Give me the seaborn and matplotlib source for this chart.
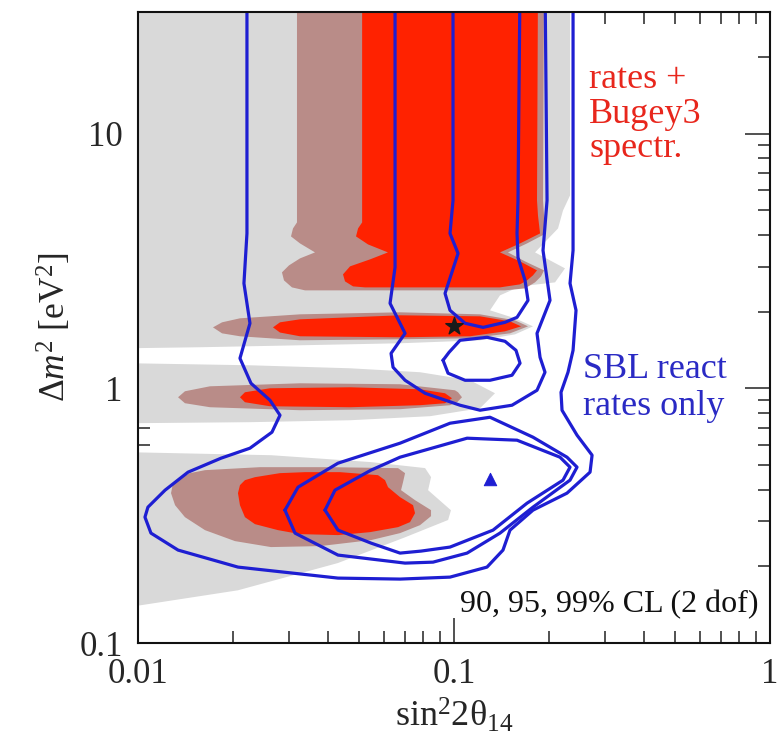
import matplotlib
matplotlib.use("Agg")
import matplotlib.pyplot as plt
import seaborn as sns
from matplotlib.ticker import FixedLocator, NullFormatter, FixedFormatter

# ---------------- data (sin^2 2theta14, Delta m^2 [eV^2]) ----------------
# "rates + Bugey3 spectr." allowed regions: 99% (grey), 95% (brown), 90% (red)
grey99_a_s2t = [0.0094, 0.2329, 0.2329, 0.2213, 0.2134, 0.1805, 0.2245, 0.2088, 0.1618, 0.1398,
                0.1300, 0.1560, 0.1778, 0.1560, 0.1209, 0.0675, 0.0326, 0.0157, 0.0094]
grey99_a_dm2 = [40, 40, 5.713, 4.990, 4.241, 3.415, 2.956, 2.605, 2.512, 2.316,
                2.023, 1.882, 1.750, 1.628, 1.543, 1.502, 1.475, 1.449, 1.436]
grey99_b_s2t = [0.0094, 0.0226, 0.0469, 0.0781, 0.1124, 0.1348, 0.1209, 0.0840, 0.0469, 0.0226, 0.0094]
grey99_b_dm2 = [1.254, 1.231, 1.198, 1.156, 1.075, 0.956, 0.835, 0.777, 0.749, 0.736, 0.729]
grey99_c_s2t = [0.0094, 0.0264, 0.0546, 0.0810, 0.0846, 0.0828, 0.0978, 0.0958, 0.0700, 0.0429, 0.0207, 0.0094]
grey99_c_dm2 = [0.561, 0.546, 0.513, 0.486, 0.448, 0.398, 0.332, 0.304, 0.260, 0.206, 0.161, 0.1385]

brown95_a_s2t = [0.03185, 0.03185, 0.03094, 0.03049, 0.03256, 0.03632, 0.03256, 0.03005, 0.02855,
                 0.02897, 0.03071, 0.03377, 0.1450, 0.1678, 0.1805, 0.1886, 0.1927, 0.1678,
                 0.1482, 0.1703, 0.1956, 0.1927, 0.1913, 0.1927]
brown95_a_dm2 = [40, 4.478, 4.241, 3.946, 3.704, 3.415, 3.235, 3.037, 2.851,
                 2.652, 2.489, 2.423, 2.423, 2.467, 2.605, 2.750, 2.903, 3.148,
                 3.415, 3.704, 4.054, 4.770, 5.461, 40]
brown95_b_s2t = [0.01727, 0.01845, 0.02102, 0.03256, 0.06749, 0.1209, 0.1560, 0.1715, 0.1504, 0.1124,
                 0.06749, 0.03256, 0.02102, 0.01845]
brown95_b_dm2 = [1.734, 1.815, 1.882, 1.951, 1.987, 1.951, 1.848, 1.750, 1.643, 1.571,
                 1.557, 1.543, 1.600, 1.643]
brown95_c_s2t = [0.01339, 0.01408, 0.0169, 0.03256, 0.06749, 0.1007, 0.1030, 0.1060, 0.1023, 0.09713,
                 0.06749, 0.03256, 0.0169, 0.01408]
brown95_c_dm2 = [0.922, 0.9733, 1.018, 1.046, 1.037, 0.982, 0.9645, 0.922, 0.8815, 0.858,
                 0.8275, 0.820, 0.8425, 0.8736]
brown95_d_s2t = [0.01272, 0.01291, 0.01358, 0.01461, 0.01629, 0.02432, 0.04051, 0.06652, 0.0700, 0.06898,
                 0.06798, 0.07528, 0.08459, 0.08459, 0.07808, 0.06749, 0.05463, 0.03767, 0.02635, 0.02027,
                 0.01629, 0.01408, 0.0131]
brown95_d_dm2 = [0.3875, 0.4242, 0.4437, 0.4643, 0.477, 0.4901, 0.4901, 0.4857, 0.4643, 0.428,
                 0.3981, 0.3637, 0.3323, 0.3148, 0.2902, 0.27, 0.2535, 0.2401, 0.2380, 0.2512,
                 0.2774, 0.3119, 0.3476]

red90_a_s2t = [0.0512, 0.0512, 0.0497, 0.04897, 0.05345, 0.0618, 0.05423, 0.04688, 0.04454, 0.0452,
               0.04792, 0.05229, 0.1398, 0.1618, 0.1703, 0.1778, 0.1831, 0.1618, 0.1398, 0.1618,
               0.1872, 0.1844, 0.1831, 0.1844]
red90_a_dm2 = [40, 4.478, 4.241, 3.946, 3.670, 3.415, 3.206, 3.010, 2.800, 2.628,
               2.512, 2.489, 2.489, 2.558, 2.652, 2.775, 2.903, 3.148, 3.415, 3.704,
               4.054, 4.770, 5.461, 40]
red90_b_s2t = [0.02674, 0.02814, 0.03256, 0.06749, 0.1209, 0.1504, 0.1630, 0.1450, 0.1124, 0.06749,
               0.03256, 0.02814]
red90_b_dm2 = [1.734, 1.815, 1.865, 1.934, 1.916, 1.831, 1.750, 1.673, 1.600, 1.585,
               1.600, 1.655]
red90_c_s2t = [0.02102, 0.0218, 0.02616, 0.04688, 0.07808, 0.09368, 0.09856, 0.09368, 0.07808, 0.04688,
               0.02616, 0.0218]
red90_c_dm2 = [0.922, 0.9645, 1.0, 1.009, 0.991, 0.9558, 0.9137, 0.8736, 0.858, 0.8425,
               0.850, 0.8815]
red90_d_s2t = [0.02072, 0.02102, 0.0218, 0.02345, 0.02814, 0.03377, 0.04358, 0.05748, 0.0605, 0.06183,
               0.06749, 0.0742, 0.07528, 0.07259, 0.06652, 0.05423, 0.04294, 0.03256, 0.02773, 0.02345,
               0.0218, 0.02102]
red90_d_dm2 = [0.3875, 0.4165, 0.4358, 0.4477, 0.4643, 0.4685, 0.4685, 0.4559, 0.4358, 0.409,
               0.3737, 0.3476, 0.3234, 0.2982, 0.285, 0.2724, 0.2652, 0.2676, 0.2774, 0.2928,
               0.3119, 0.3476]

# "SBL react rates only" contours (blue lines)
sbl99_s2t = [0.02212, 0.02212, 0.02164, 0.02261, 0.02102, 0.02278, 0.02616, 0.02814, 0.02654, 0.02261,
             0.01831, 0.0144, 0.01218, 0.01075, 0.01052, 0.01099, 0.01339, 0.02072, 0.04294, 0.06749,
             0.09713, 0.1272, 0.1429, 0.1504, 0.1778, 0.2278, 0.2695, 0.2735, 0.2451, 0.2197,
             0.2181, 0.2295, 0.2381, 0.2433, 0.2329, 0.2381, 0.2381]
sbl99_dm2 = [40, 4.054, 2.581, 1.799, 1.311, 1.046, 0.8975, 0.7837, 0.6723, 0.5818,
             0.5315, 0.4685, 0.3981, 0.3414, 0.3119, 0.27, 0.2316, 0.1986, 0.1798, 0.1782,
             0.1814, 0.1986, 0.2316, 0.2774, 0.3323, 0.3875, 0.4685, 0.5462, 0.6543, 0.82,
             0.9645, 1.156, 1.409, 2.023, 2.581, 3.477, 40]
sbl95_a_s2t = [0.06508, 0.06508, 0.06275, 0.0700, 0.06321, 0.06414, 0.0700, 0.08098, 0.1045, 0.1209,
               0.1526, 0.1831, 0.1941, 0.1872, 0.1831, 0.2013, 0.1913, 0.197, 0.1941]
sbl95_a_dm2 = [40, 2.983, 2.155, 1.643, 1.371, 1.209, 1.075, 0.9558, 0.8579, 0.820,
               0.8579, 0.982, 1.156, 1.323, 1.643, 2.214, 3.477, 5.461, 40]
sbl95_b_s2t = [0.02918, 0.03209, 0.04294, 0.06749, 0.09713, 0.1300, 0.1778, 0.2278, 0.2451, 0.2329,
               0.1778, 0.1398, 0.1100, 0.08584, 0.0700, 0.04294, 0.03139, 0.02918]
sbl95_b_dm2 = [0.3323, 0.409, 0.5081, 0.6087, 0.7291, 0.7696, 0.6426, 0.5363, 0.4901, 0.4358,
               0.3414, 0.27, 0.2254, 0.2077, 0.2059, 0.2214, 0.27, 0.3323]
sbl90_a_s2t = [0.09928, 0.09928, 0.09713, 0.1030, 0.09368, 0.09713, 0.1084, 0.1236, 0.1450, 0.1583,
               0.1715, 0.1678, 0.1594, 0.1583, 0.1594, 0.1618]
sbl90_a_dm2 = [40, 5.461, 4.054, 3.384, 2.358, 2.023, 1.799, 1.734, 1.815, 1.899,
               2.214, 2.652, 3.264, 4.054, 5.461, 40]
sbl90_b_s2t = [0.09233, 0.09645, 0.1045, 0.1272, 0.1450, 0.1571, 0.1618, 0.1526, 0.1300, 0.1084, 0.09575, 0.09233]
sbl90_b_dm2 = [1.288, 1.384, 1.543, 1.585, 1.529, 1.409, 1.254, 1.125, 1.075, 1.075, 1.146, 1.288]
sbl90_c_s2t = [0.03907, 0.04201, 0.05463, 0.06749, 0.1100, 0.1583, 0.2165, 0.2329, 0.2213, 0.1703,
               0.1329, 0.09713, 0.07865, 0.06749, 0.05463, 0.04294, 0.03907]
sbl90_c_dm2 = [0.3323, 0.3981, 0.477, 0.5363, 0.6368, 0.6254, 0.5363, 0.4901, 0.4358, 0.354,
               0.2774, 0.238, 0.2295, 0.2254, 0.2467, 0.2774, 0.3323]

bestfit_global = (0.10, 1.75)   # star
bestfit_sbl = (0.13, 0.44)      # triangle

xtick_vals = [0.01, 0.1, 1]
xtick_labels = ["0.01", "0.1", "1"]
ytick_vals = [0.1, 1, 10]
ytick_labels = ["0.1", "1", "10"]
red_text_lines = ["rates +", "Bugey3", "spectr."]
blue_text_lines = ["SBL react", "rates only"]
cl_text = "90, 95, 99% CL (2 dof)"

# ---------------- style ----------------
sns.set_style("ticks")
plt.rcParams['font.family'] = ['Liberation Serif', 'DejaVu Serif']
plt.rcParams['mathtext.fontset'] = 'custom'
plt.rcParams['mathtext.rm'] = 'Liberation Serif'
plt.rcParams['mathtext.it'] = 'Liberation Serif:italic'
plt.rcParams['mathtext.bf'] = 'Liberation Serif:bold'

GREY = '#d9d9d9'
BROWN = '#b98c88'
RED = '#ff2200'
BLUE = '#1e1ed2'
RED_TXT = '#e8261c'
BLUE_TXT = '#2a2ac4'

fig = plt.figure(figsize=(7.8, 7.44), dpi=100)
ax = fig.add_axes([138 / 780, 101 / 744, 632 / 780, 631 / 744])
ax.set_xscale('log')
ax.set_yscale('log')

for xs, ys in [(grey99_a_s2t, grey99_a_dm2), (grey99_b_s2t, grey99_b_dm2), (grey99_c_s2t, grey99_c_dm2)]:
    ax.fill(xs, ys, color=GREY, lw=0, zorder=1)
for xs, ys in [(brown95_a_s2t, brown95_a_dm2), (brown95_b_s2t, brown95_b_dm2),
               (brown95_c_s2t, brown95_c_dm2), (brown95_d_s2t, brown95_d_dm2)]:
    ax.fill(xs, ys, color=BROWN, lw=0, zorder=2)
for xs, ys in [(red90_a_s2t, red90_a_dm2), (red90_b_s2t, red90_b_dm2),
               (red90_c_s2t, red90_c_dm2), (red90_d_s2t, red90_d_dm2)]:
    ax.fill(xs, ys, color=RED, lw=0, zorder=3)

for xs, ys in [(sbl99_s2t, sbl99_dm2), (sbl95_a_s2t, sbl95_a_dm2), (sbl95_b_s2t, sbl95_b_dm2),
               (sbl90_a_s2t, sbl90_a_dm2), (sbl90_b_s2t, sbl90_b_dm2), (sbl90_c_s2t, sbl90_c_dm2)]:
    sns.lineplot(x=xs, y=ys, sort=False, estimator=None, color=BLUE, lw=2.3, ax=ax, zorder=4)

sns.scatterplot(x=[bestfit_global[0]], y=[bestfit_global[1]], marker='*', s=170, color='#1a1a1a',
                edgecolor='#1a1a1a', ax=ax, zorder=5)
sns.scatterplot(x=[bestfit_sbl[0]], y=[bestfit_sbl[1]], marker='^', s=80, color=BLUE,
                edgecolor=BLUE, ax=ax, zorder=5)

ax.set_xlim(0.01, 1)
ax.set_ylim(0.1, 30)

ax.xaxis.set_major_locator(FixedLocator(xtick_vals))
ax.xaxis.set_major_formatter(FixedFormatter(xtick_labels))
ax.yaxis.set_major_locator(FixedLocator(ytick_vals))
ax.yaxis.set_major_formatter(FixedFormatter(ytick_labels))
ax.xaxis.set_minor_formatter(NullFormatter())
ax.yaxis.set_minor_formatter(NullFormatter())
ax.tick_params(which='both', direction='in', top=True, right=True, width=1.1, color='#222222')
ax.tick_params(which='major', length=18, labelsize=25, pad=11)
ax.tick_params(which='minor', length=8.5)
for sp in ax.spines.values():
    sp.set_linewidth(1.5)
    sp.set_color('#111111')
    sp.set_zorder(6)

ax.set_xlabel(r'$\mathrm{sin}^2\mathrm{2θ}_{14}$', fontsize=26, labelpad=4)
ax.set_ylabel(r'$\Delta m^2$ [eV$^2$]', fontsize=25.5, labelpad=4)

red_y = [0.8796, 0.8241, 0.7702]
for t, yy in zip(red_text_lines, red_y):
    ax.text(0.714, yy, t, transform=ax.transAxes, color=RED_TXT, fontsize=26,
            ha='left', va='baseline', zorder=7)
blue_y = [0.420, 0.361]
for t, yy in zip(blue_text_lines, blue_y):
    ax.text(0.704, yy, t, transform=ax.transAxes, color=BLUE_TXT, fontsize=26,
            ha='left', va='baseline', zorder=7)
ax.text(0.5095, 0.049, cl_text, transform=ax.transAxes, color='#111111', fontsize=23,
        ha='left', va='baseline', zorder=7)

fig.savefig('out.png', dpi=100)
